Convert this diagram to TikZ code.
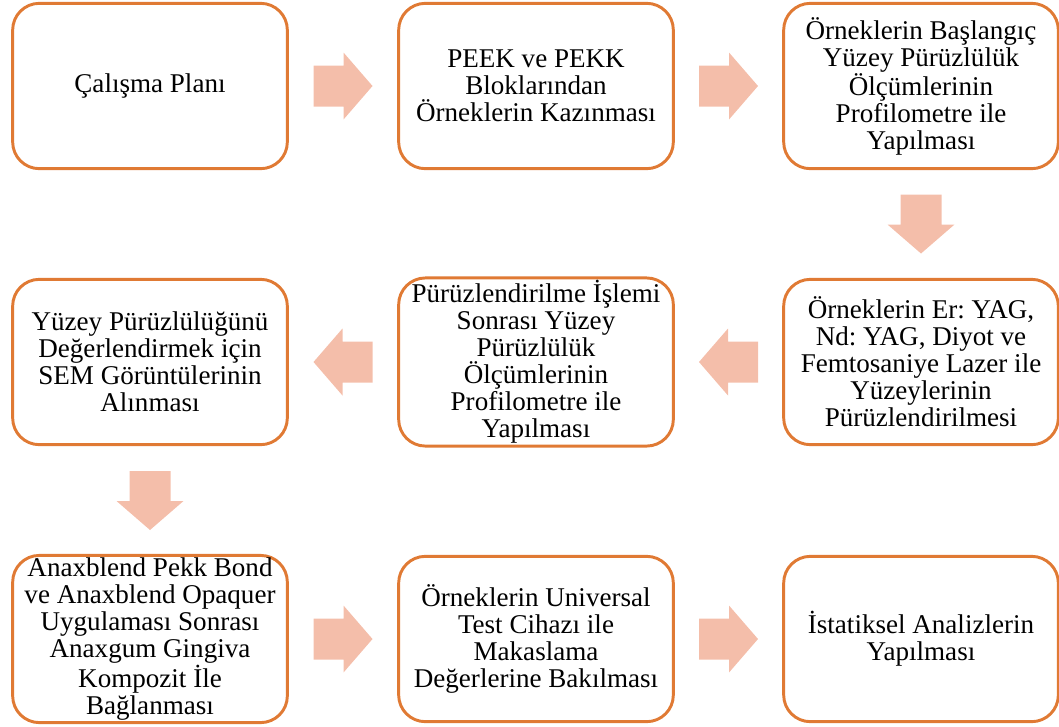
\documentclass[tikz,border=0pt]{standalone}
\usepackage{fontspec}
\setmainfont{Liberation Serif}
\usetikzlibrary{calc}
\frenchspacing
\definecolor{boxline}{RGB}{224,122,52}
\definecolor{arrowfill}{RGB}{244,190,170}
\tikzset{
  stepbox/.style={draw=boxline, line width=2.2pt, rounded corners=20pt, fill=white,
    align=center, minimum width=206pt, minimum height=124pt, inner sep=2pt,
    font=\fontsize{20.3}{20.2}\selectfont},
  blockarrow/.pic={
    \fill[arrowfill] (-29.5,-20.5) -- (0.5,-20.5) -- (0.5,-33.5) -- (29.5,0)
      -- (0.5,33.5) -- (0.5,20.5) -- (-29.5,20.5) -- cycle;
  }
}
\begin{document}
\begin{tikzpicture}[x=0.75pt, y=-0.75pt]
  \useasboundingbox (0,0) rectangle (1059,726);
  % First row
  \node[stepbox] (s1) at (150,86) {Çalışma Planı};
  \node[stepbox] (s2) at (536,86) {PEEK ve PEKK\\Bloklarından\\Örneklerin Kazınması};
  \node[stepbox] (s3) at (921,86) {Örneklerin Başlangıç\\Yüzey Pürüzlülük\\Ölçümlerinin\\Profilometre ile\\Yapılması};
  % Second row
  \node[stepbox] (s6) at (921,362) {Örneklerin Er: YAG,\\Nd: YAG, Diyot ve\\Femtosaniye Lazer ile\\Yüzeylerinin\\Pürüzlendirilmesi};
  \node[stepbox] (s5) at (536,362) {Pürüzlendirilme İşlemi\\Sonrası Yüzey\\Pürüzlülük\\Ölçümlerinin\\Profilometre ile\\Yapılması};
  \node[stepbox] (s4) at (150,362) {Yüzey Pürüzlülüğünü\\Değerlendirmek için\\SEM Görüntülerinin\\Alınması};
  % Third row
  \node[stepbox] (s7) at (150,639) {Anaxblend Pekk Bond\\ve Anaxblend Opaquer\\Uygulaması Sonrası\\Anaxgum Gingiva\\Kompozit İle\\Bağlanması};
  \node[stepbox] (s8) at (536,639) {Örneklerin Universal\\Test Cihazı ile\\Makaslama\\Değerlerine Bakılması};
  \node[stepbox] (s9) at (921,639) {İstatiksel Analizlerin\\Yapılması};
  % Arrows
  \pic at ($(s1)!0.5!(s2)$) {blockarrow};
  \pic at ($(s2)!0.5!(s3)$) {blockarrow};
  \pic[rotate=-90] at ($(s3)!0.5!(s6)$) {blockarrow};
  \pic[rotate=180] at ($(s6)!0.5!(s5)$) {blockarrow};
  \pic[rotate=180] at ($(s5)!0.5!(s4)$) {blockarrow};
  \pic[rotate=-90] at ($(s4)!0.5!(s7)$) {blockarrow};
  \pic at ($(s7)!0.5!(s8)$) {blockarrow};
  \pic at ($(s8)!0.5!(s9)$) {blockarrow};
\end{tikzpicture}
\end{document}
